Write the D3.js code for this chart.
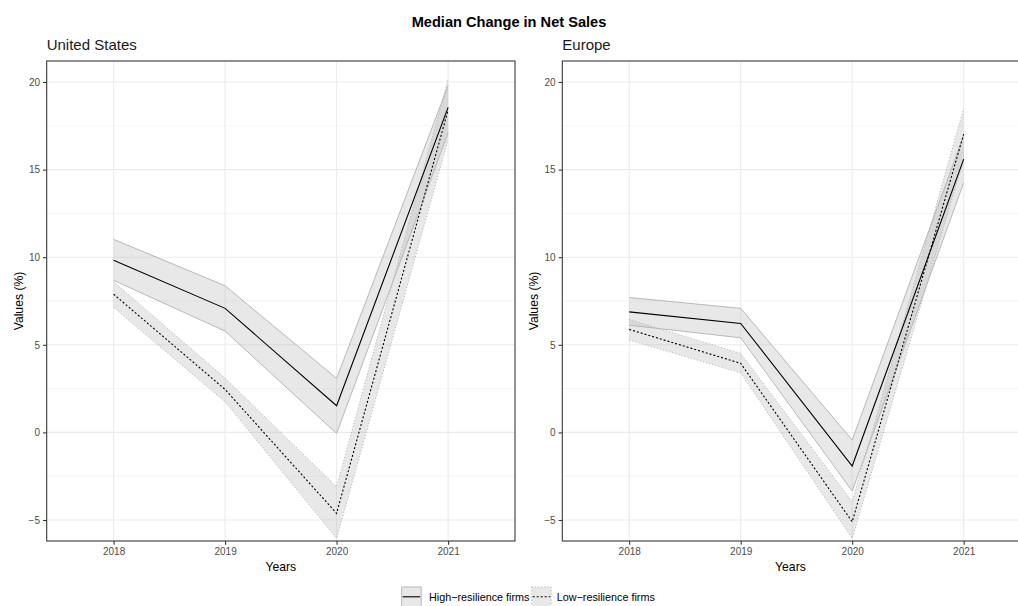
<!DOCTYPE html>
<html>
<head>
<meta charset="utf-8">
<script src="https://cdn.jsdelivr.net/npm/d3@7"></script>
<style>
  html, body { margin: 0; padding: 0; background: #fff; }
  svg { display: block; font-family: "Liberation Sans", Arial, Helvetica, sans-serif; }
</style>
</head>
<body>
<svg id="chart" width="1018" height="606"></svg>
<script>
// ---- data ----
const years = ["2018", "2019", "2020", "2021"];
const yTicks = [-5, 0, 5, 10, 15, 20];
const yMinor = [-2.5, 2.5, 7.5, 12.5, 17.5];
const panelNames = ["United States", "Europe"];
const seriesNames = ["High\u2212resilience firms", "Low\u2212resilience firms"];

const usHigh   = [9.82, 7.08, 1.52, 18.55];
const usHighLo = [8.68, 5.78, -0.06, 17.1];
const usHighHi = [11.02, 8.37, 3.08, 19.8];
const usLow    = [7.89, 2.45, -4.62, 18.4];
const usLowLo  = [7.13, 1.75, -6.05, 16.7];
const usLowHi  = [8.6, 3.1, -3.1, 20.15];

const euHigh   = [6.88, 6.22, -1.92, 15.6];
const euHighLo = [6.12, 5.4, -3.35, 14.25];
const euHighHi = [7.7, 7.08, -0.44, 16.95];
const euLow    = [5.88, 3.94, -5.1, 17.03];
const euLowLo  = [5.27, 3.4, -6.05, 15.6];
const euLowHi  = [6.45, 4.51, -3.96, 18.49];

const panels = [
  { name: panelNames[0], x0: 46.7, x1: 515.0,
    series: [
      { mid: usHigh, lo: usHighLo, hi: usHighHi, type: "high" },
      { mid: usLow, lo: usLowLo, hi: usLowHi, type: "low" }
    ] },
  { name: panelNames[1], x0: 562.3, x1: 1030.6,
    series: [
      { mid: euHigh, lo: euHighLo, hi: euHighHi, type: "high" },
      { mid: euLow, lo: euLowLo, hi: euLowHi, type: "low" }
    ] }
];

// ---- layout ----
const svg = d3.select("#chart");
const pTop = 61, pBot = 541;
const y = d3.scaleLinear().domain([-5, 20]).range([520, 82]);

svg.append("text")
  .attr("x", 509).attr("y", 26.5)
  .attr("text-anchor", "middle")
  .attr("font-size", 14.6).attr("font-weight", "bold")
  .attr("fill", "#000")
  .text("Median Change in Net Sales");

const defs = svg.append("defs");

panels.forEach((p, i) => {
  const x = d3.scalePoint().domain(years).range([p.x0, p.x1]).padding(0.6);
  const g = svg.append("g");

  defs.append("clipPath").attr("id", "clip" + i)
    .append("rect").attr("x", p.x0).attr("y", pTop)
    .attr("width", p.x1 - p.x0).attr("height", pBot - pTop);

  // strip title
  g.append("text").attr("x", p.x0).attr("y", 49.5)
    .attr("font-size", 15).attr("fill", "#1a1a1a").text(p.name);

  // grid
  g.selectAll(".minor").data(yMinor).join("line")
    .attr("x1", p.x0).attr("x2", p.x1)
    .attr("y1", d => y(d)).attr("y2", d => y(d))
    .attr("stroke", "#ebebeb").attr("stroke-width", 0.55);
  g.selectAll(".major").data(yTicks).join("line")
    .attr("x1", p.x0).attr("x2", p.x1)
    .attr("y1", d => y(d)).attr("y2", d => y(d))
    .attr("stroke", "#ebebeb").attr("stroke-width", 1.07);
  g.selectAll(".vmajor").data(years).join("line")
    .attr("x1", d => x(d)).attr("x2", d => x(d))
    .attr("y1", pTop).attr("y2", pBot)
    .attr("stroke", "#ebebeb").attr("stroke-width", 1.07);

  const plot = g.append("g").attr("clip-path", `url(#clip${i})`);

  const area = d3.area().x((d, k) => x(years[k])).y0(d => y(d[0])).y1(d => y(d[1]));
  const line = d3.line().x((d, k) => x(years[k])).y(d => y(d));

  // ribbons
  p.series.forEach(s => {
    const pairs = s.lo.map((v, k) => [v, s.hi[k]]);
    plot.append("path").attr("d", area(pairs))
      .attr("fill", "#b3b3b3").attr("fill-opacity", 0.3).attr("stroke", "none");
    [s.lo, s.hi].forEach(b => {
      plot.append("path").attr("d", line(b))
        .attr("fill", "none")
        .attr("stroke", "#b8b8b8").attr("stroke-width", 1)
        .attr("stroke-dasharray", s.type === "low" ? "1.2,2" : null);
    });
  });
  // median lines
  p.series.forEach(s => {
    plot.append("path").attr("d", line(s.mid))
      .attr("fill", "none").attr("stroke", "#000")
      .attr("stroke-width", 1.1)
      .attr("stroke-dasharray", s.type === "low" ? "2,2" : null);
  });

  // border
  g.append("rect").attr("x", p.x0).attr("y", pTop)
    .attr("width", p.x1 - p.x0).attr("height", pBot - pTop)
    .attr("fill", "none").attr("stroke", "#333").attr("stroke-width", 1.07);

  // y axis
  const ya = g.append("g").attr("transform", `translate(${p.x0},0)`)
    .call(d3.axisLeft(y).tickValues(yTicks).tickSize(3.7).tickPadding(3)
      .tickFormat(d => d < 0 ? "\u2212" + Math.abs(d) : d));
  ya.select(".domain").remove();
  ya.selectAll(".tick line").attr("stroke", "#333").attr("stroke-width", 1.07);
  ya.selectAll(".tick text").attr("fill", "#4d4d4d").attr("font-size", 10)
    .attr("font-family", "Liberation Sans, Arial, sans-serif");

  // x axis
  const xa = g.append("g").attr("transform", `translate(0,${pBot})`)
    .call(d3.axisBottom(x).tickSize(3.7).tickPadding(3));
  xa.select(".domain").remove();
  xa.selectAll(".tick line").attr("stroke", "#333").attr("stroke-width", 1.07);
  xa.selectAll(".tick text").attr("fill", "#4d4d4d").attr("font-size", 10)
    .attr("font-family", "Liberation Sans, Arial, sans-serif");

  // axis titles
  g.append("text").attr("x", (p.x0 + p.x1) / 2 - (i === 1 ? 6 : 0)).attr("y", 571)
    .attr("text-anchor", "middle").attr("font-size", 12.2).attr("fill", "#000")
    .text("Years");
  g.append("text")
    .attr("transform", `translate(${p.x0 - 24},${(pTop + pBot) / 2}) rotate(-90)`)
    .attr("text-anchor", "middle").attr("font-size", 12.2).attr("fill", "#000")
    .text("Values (%)");
});

// ---- legend ----
const leg = svg.append("g");
const keys = [
  { x: 401.7, tx: 429, dash: null, label: seriesNames[0] },
  { x: 531.7, tx: 556.7, dash: "2,2", label: seriesNames[1] }
];
keys.forEach(k => {
  leg.append("rect").attr("x", k.x).attr("y", 587).attr("width", 19.5).attr("height", 19.5)
    .attr("fill", "#b3b3b3").attr("fill-opacity", 0.3)
    .attr("stroke", "#b8b8b8").attr("stroke-width", 1)
    .attr("stroke-dasharray", k.dash ? "1.2,2" : null);
  leg.append("line").attr("x1", k.x + 1).attr("x2", k.x + 18.5)
    .attr("y1", 596.8).attr("y2", 596.8)
    .attr("stroke", "#000").attr("stroke-width", 1.1)
    .attr("stroke-dasharray", k.dash);
  leg.append("text").attr("x", k.tx).attr("y", 600.5)
    .attr("font-size", 10.8).attr("fill", "#000").text(k.label);
});
</script>
</body>
</html>
